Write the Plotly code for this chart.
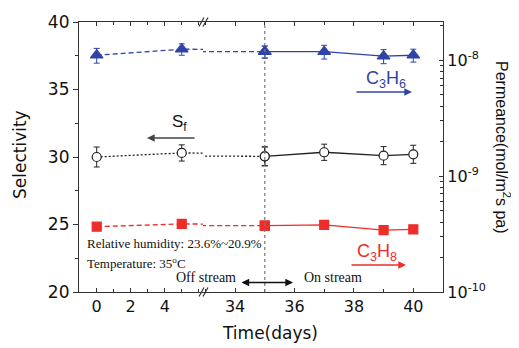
import plotly.graph_objects as go

# ---------------- data ----------------
days = [0, 5, 35, 37, 39, 40]
sf = [30.0, 30.3, 30.05, 30.35, 30.1, 30.2]
sf_err = [0.74, 0.6, 0.7, 0.6, 0.67, 0.67]
c3h6 = [1.10e-8, 1.24e-8, 1.18e-8, 1.18e-8, 1.08e-8, 1.10e-8]
c3h6_err = [0.16e-8, 0.14e-8, 0.14e-8, 0.16e-8, 0.15e-8, 0.14e-8]
c3h8 = [3.66e-10, 3.86e-10, 3.73e-10, 3.79e-10, 3.42e-10, 3.47e-10]
c3h8_err = [0.12e-10, 0.2e-10, 0.2e-10, 0.2e-10, 0.25e-10, 0.25e-10]
off_idx = slice(0, 3)   # off-stream period (days 0, 5, 35)
on_idx = slice(2, 6)    # on-stream period (days 35..40)

left_ticks = [0, 2, 4]
right_ticks = [34, 36, 38, 40]
perm_ticks = [1e-10, 1e-9, 1e-8]
perm_ticktext = ["10<sup>-10</sup>", "10<sup>-9</sup>", "10<sup>-8</sup>"]
perm_minor = [k * 10.0 ** e for e in (-10, -9, -8) for k in range(2, 10)]

BLUE = "#2f44a6"
RED = "#ee2c2a"
BLACK = "#222222"

W, H = 519, 348
OFF = 8  # browser default body margin
L, R, T, B = 79, 443, 22, 292
BREAK = 203


def px(x):
    return (x - L) / (R - L)


def py(y):
    return (B - y) / (B - T)


fig = go.Figure()

series = [
    ("Sf", sf, sf_err, "y", "circle", BLACK, 9, "2px,2px"),
    ("C3H6", c3h6, c3h6_err, "y2", "triangle-up", BLUE, 11, "5px,3px"),
    ("C3H8", c3h8, c3h8_err, "y2", "square", RED, 9, "5px,3px"),
]

for name, vals, errs, yax, sym, col, msz, dash in series:
    fill = "white" if name == "Sf" else col
    for xax in ["x", "x2"]:
        for part, ls in [(off_idx, dash), (on_idx, "solid")]:
            fig.add_trace(go.Scatter(
                x=days[part], y=vals[part], xaxis=xax, yaxis=yax,
                mode="lines+markers",
                line=dict(color=col, width=1.3, dash=ls),
                marker=dict(symbol=sym, size=msz, color=fill,
                            line=dict(color=col, width=1.2)),
                error_y=dict(type="data", array=errs[part], color=col, thickness=1,
                             width=3),
                showlegend=False, name=name,
            ))

axis_common = dict(showgrid=False, zeroline=False, showline=True, linecolor="#333",
                   linewidth=1.2, automargin=False,
                   tickfont=dict(family="DejaVu Sans", size=16, color="#111"))

fig.update_layout(
    template="none",
    width=W - OFF, height=H - OFF,
    margin=dict(l=L - OFF, r=W - R, t=T - OFF, b=H - B),
    paper_bgcolor="white", plot_bgcolor="white",
    xaxis=dict(domain=[0, px(BREAK)], range=[-1.04, 6.25], anchor="y",
               tickvals=left_ticks, ticks="inside", ticklen=4, tickcolor="#333",
               mirror="ticks",
               minor=dict(dtick=1, ticks="inside", ticklen=3, tickcolor="#333"),
               **axis_common),
    xaxis2=dict(domain=[px(BREAK), 1], range=[32.92, 41.0], anchor="y",
                tickvals=right_ticks, ticks="inside", ticklen=4, tickcolor="#333",
                mirror="ticks",
                minor=dict(dtick=1, tick0=33, ticks="inside", ticklen=3, tickcolor="#333"),
                **axis_common),
    yaxis=dict(range=[20, 40], anchor="x", dtick=5, ticks="outside", ticklen=5,
               tickcolor="#333",
               minor=dict(dtick=2.5, ticks="outside", ticklen=3, tickcolor="#333"),
               **{**axis_common, "tickfont": dict(family="DejaVu Sans", size=17, color="#111")}),
    yaxis2=dict(type="log", range=[-10, -7.672], anchor="x2", overlaying="y", side="right",
                tickvals=perm_ticks, ticktext=perm_ticktext, ticks="inside", ticklen=4,
                tickcolor="#333",
                minor=dict(tickvals=perm_minor, ticks="inside", ticklen=3, tickcolor="#333"),
                **axis_common),
)

# vertical dotted line at day 35
fig.add_shape(type="line", xref="x2", yref="paper", x0=35, x1=35, y0=0, y1=1,
              line=dict(color="#777", width=1.2, dash="dot"))

# axis break marks
for yb in [B, T]:
    for dx in [0, 4]:
        fig.add_shape(type="line", xref="paper", yref="paper",
                      x0=px(BREAK - 4 + dx), y0=py(yb + 4.5), x1=px(BREAK + 1 + dx), y1=py(yb - 4.5),
                      line=dict(color="#333", width=1.2))

annots = []
# axis titles
annots.append(dict(text="Selectivity", x=px(20), y=py(155), textangle=-90,
                   font=dict(family="DejaVu Sans", size=17, color="#111")))
annots.append(dict(text="Time(days)", x=px(270), y=py(333),
                   font=dict(family="DejaVu Sans", size=17, color="#111")))
annots.append(dict(text="Permeance(mol/m<sup>2</sup>s pa)", x=px(503), y=py(147), textangle=90,
                   font=dict(family="Liberation Sans", size=16, color="#111")))
# series labels
annots.append(dict(text="S<sub>f</sub>", x=px(170), y=py(123), xanchor="left",
                   font=dict(family="Liberation Sans", size=17, color="#111")))
annots.append(dict(text="C<sub>3</sub>H<sub>6</sub>", x=px(364), y=py(79), xanchor="left",
                   font=dict(family="Liberation Sans", size=18, color=BLUE)))
annots.append(dict(text="C<sub>3</sub>H<sub>8</sub>", x=px(355), y=py(252), xanchor="left",
                   font=dict(family="Liberation Sans", size=18, color=RED)))
# notes
serif = dict(family="Liberation Serif", size=13, color="#111")
annots.append(dict(text="Relative humidity: 23.6%~20.9%", x=px(85), y=py(243), xanchor="left", font=serif))
annots.append(dict(text="Temperature: 35<sup>o</sup>C", x=px(85), y=py(263), xanchor="left", font=serif))
annots.append(dict(text="Off stream", x=px(238), y=py(277), xanchor="right", font=dict(serif, size=14)))
annots.append(dict(text="On stream", x=px(302), y=py(277), xanchor="left", font=dict(serif, size=14)))

for a in annots:
    a.setdefault("xanchor", "center")
    a.update(xref="paper", yref="paper", showarrow=False, yanchor="middle")
    fig.add_annotation(**a)

# arrows
arrows = [
    ((147, 138), (196, 138), "#444", "end"),
    ((412, 92), (355, 92), BLUE, "end"),
    ((406, 265), (350, 265), RED, "end"),
    ((293, 282.5), (240, 282.5), "#111", "end+start"),
]
for (hx, hy), (tx, ty), col, side in arrows:
    fig.add_annotation(xref="paper", yref="paper", x=px(hx), y=py(hy),
                       ax=tx - hx, ay=ty - hy, axref="pixel", ayref="pixel",
                       showarrow=True, arrowhead=2, arrowsize=1.1, arrowwidth=1.4,
                       arrowcolor=col, arrowside=side, text="")

fig.write_html("out.html")
